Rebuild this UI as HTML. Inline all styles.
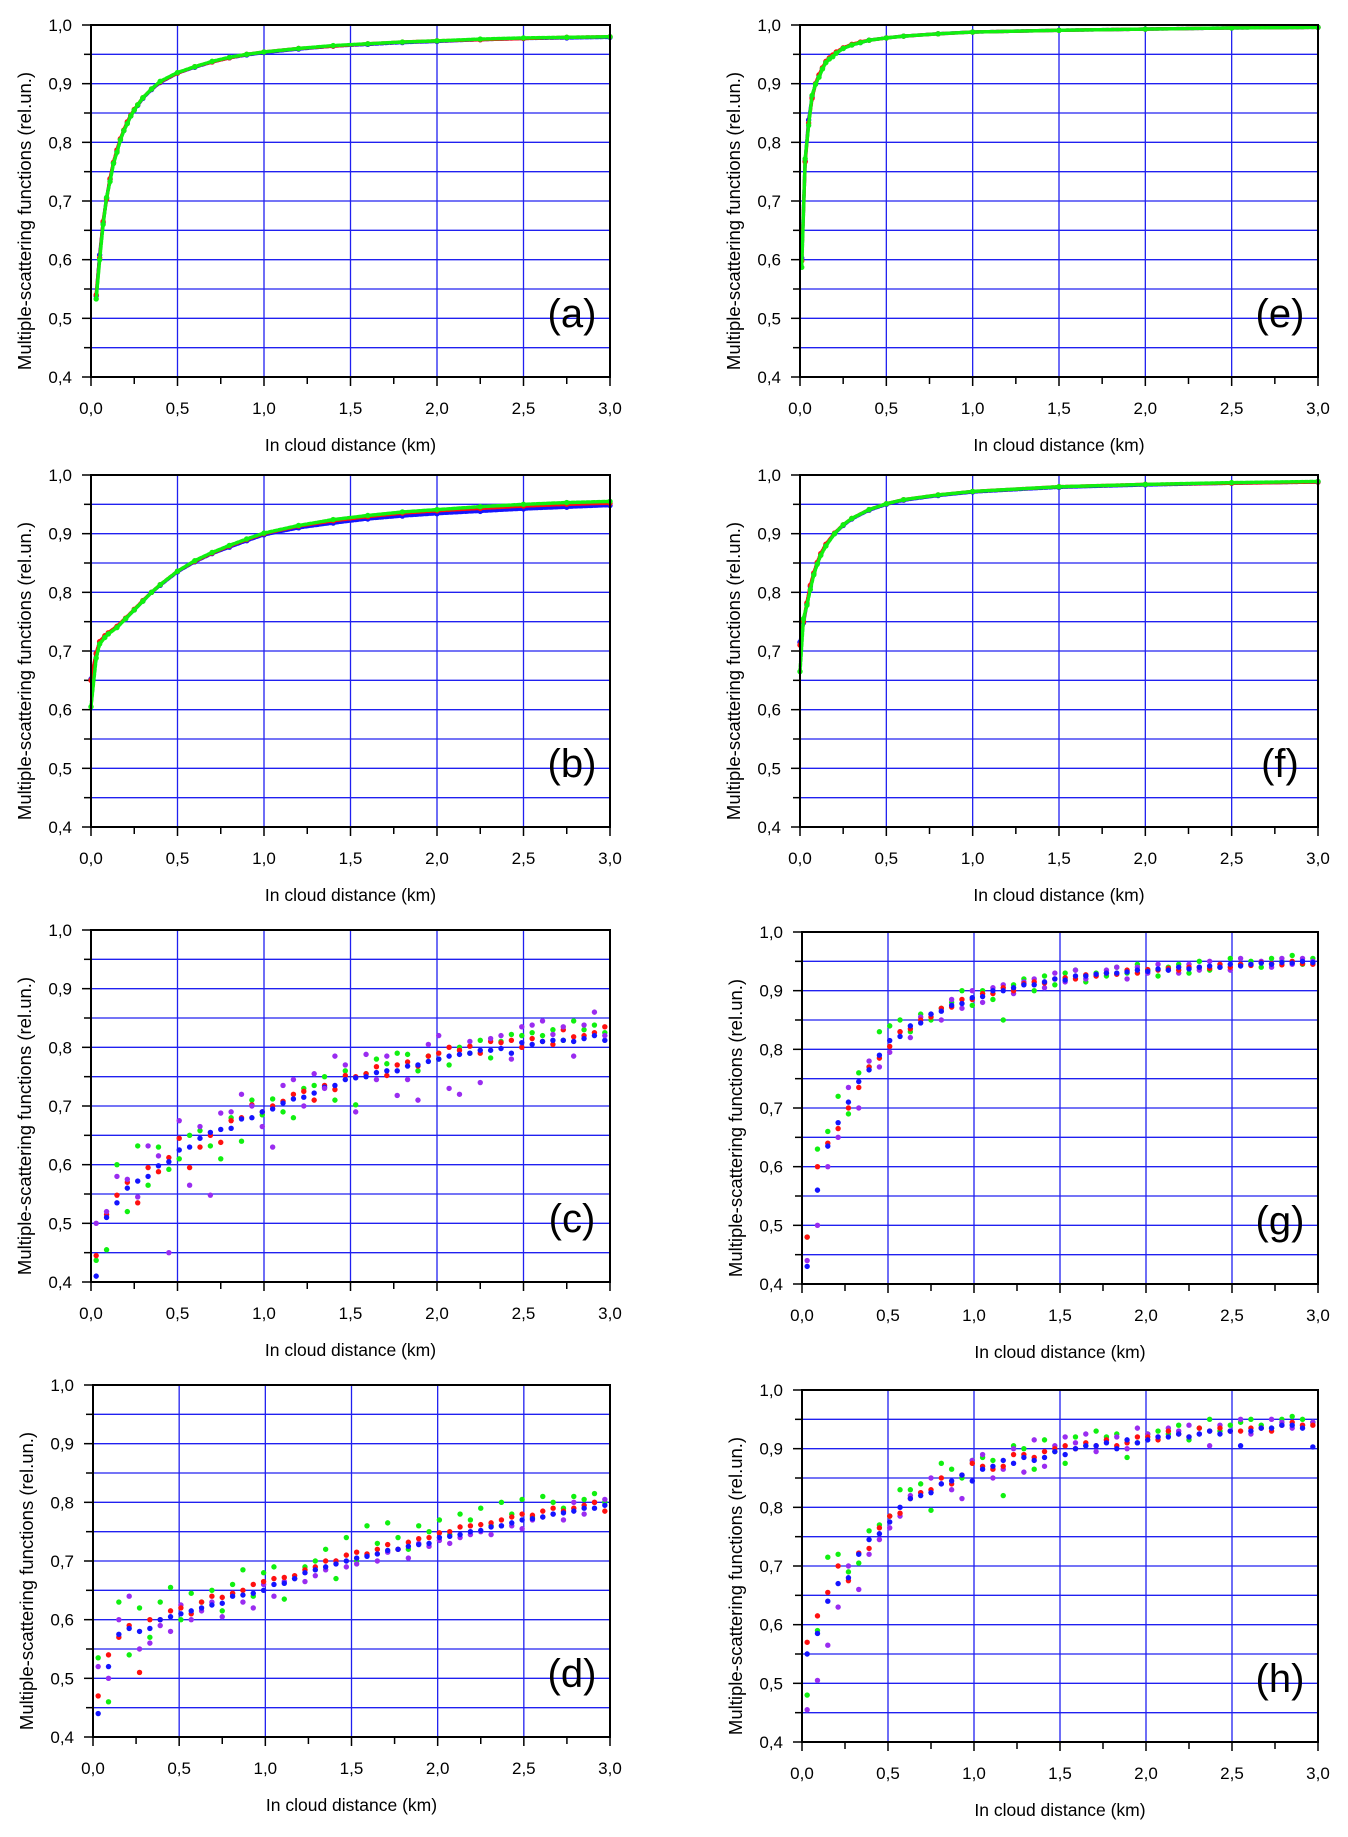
<!DOCTYPE html>
<html><head><meta charset="utf-8">
<style>
html,body{margin:0;padding:0;background:#fff;}
svg{display:block;font-family:"Liberation Sans",Arial,sans-serif;}
</style></head>
<body>
<svg id="fig" width="1348" height="1837" viewBox="0 0 1348 1837" xmlns="http://www.w3.org/2000/svg"></svg>
<script>
// ---------- axis ticks ----------
const xTicks = [0,0.5,1.0,1.5,2.0,2.5,3.0];
const xTickLabels = ["0,0","0,5","1,0","1,5","2,0","2,5","3,0"];
const yTicks = [0.4,0.5,0.6,0.7,0.8,0.9,1.0];
const yTickLabels = ["0,4","0,5","0,6","0,7","0,8","0,9","1,0"];

// ---------- smooth panels (a),(b),(e),(f) ----------
const xA = [0.03,0.05,0.07,0.09,0.11,0.13,0.15,0.17,0.19,0.21,0.23,0.25,0.27,0.3,0.35,0.4,0.5,0.6,0.7,0.8,0.9,1.0,1.2,1.4,1.6,1.8,2.0,2.25,2.5,2.75,3.0];
const aBlue  = [0.538,0.608,0.663,0.705,0.737,0.765,0.785,0.805,0.820,0.833,0.845,0.855,0.863,0.875,0.890,0.902,0.918,0.928,0.937,0.944,0.949,0.953,0.959,0.964,0.967,0.970,0.972,0.975,0.977,0.978,0.979];
const aRed   = [0.540,0.603,0.665,0.703,0.738,0.766,0.787,0.806,0.821,0.835,0.846,0.856,0.864,0.876,0.891,0.903,0.918,0.929,0.937,0.944,0.950,0.954,0.960,0.964,0.968,0.971,0.973,0.975,0.977,0.979,0.980];
const aGreen = [0.533,0.600,0.660,0.706,0.733,0.764,0.783,0.804,0.820,0.832,0.845,0.855,0.864,0.876,0.891,0.904,0.919,0.929,0.938,0.945,0.950,0.954,0.960,0.965,0.968,0.971,0.973,0.976,0.978,0.979,0.980];

const xB = [0.0,0.03,0.05,0.08,0.1,0.15,0.2,0.25,0.3,0.35,0.4,0.5,0.6,0.7,0.8,0.9,1.0,1.2,1.4,1.6,1.8,2.0,2.25,2.5,2.75,3.0];
const bBlue  = [0.652,0.695,0.715,0.724,0.730,0.741,0.755,0.770,0.785,0.800,0.812,0.835,0.852,0.866,0.877,0.888,0.898,0.910,0.918,0.925,0.930,0.934,0.938,0.942,0.945,0.948];
const bRed   = [0.650,0.696,0.716,0.726,0.731,0.742,0.756,0.771,0.786,0.800,0.813,0.836,0.853,0.867,0.879,0.890,0.900,0.913,0.922,0.929,0.935,0.939,0.943,0.947,0.950,0.952];
const bGreen = [0.605,0.688,0.712,0.723,0.729,0.740,0.755,0.770,0.785,0.800,0.813,0.836,0.854,0.868,0.880,0.891,0.901,0.914,0.924,0.931,0.937,0.941,0.946,0.950,0.953,0.955];

const xE = [0.01,0.03,0.05,0.07,0.09,0.11,0.13,0.15,0.17,0.19,0.21,0.25,0.3,0.35,0.4,0.5,0.6,0.8,1.0,1.5,2.0,2.5,3.0];
const eBlue  = [0.603,0.768,0.838,0.877,0.900,0.914,0.926,0.937,0.943,0.948,0.953,0.960,0.966,0.970,0.974,0.978,0.981,0.985,0.988,0.991,0.993,0.995,0.996];
const eRed   = [0.598,0.767,0.833,0.875,0.900,0.915,0.927,0.938,0.944,0.949,0.954,0.961,0.967,0.971,0.974,0.978,0.981,0.985,0.988,0.991,0.993,0.995,0.996];
const eGreen = [0.587,0.772,0.829,0.880,0.899,0.911,0.925,0.936,0.942,0.946,0.952,0.960,0.966,0.970,0.974,0.978,0.981,0.985,0.988,0.991,0.993,0.995,0.996];

const xF = [0.0,0.02,0.04,0.06,0.08,0.1,0.12,0.15,0.2,0.25,0.3,0.4,0.5,0.6,0.8,1.0,1.5,2.0,2.5,3.0];
const fBlue  = [0.715,0.748,0.780,0.810,0.832,0.850,0.864,0.880,0.900,0.914,0.925,0.940,0.950,0.957,0.965,0.971,0.979,0.983,0.986,0.988];
const fRed   = [0.710,0.750,0.782,0.812,0.833,0.851,0.866,0.882,0.901,0.915,0.926,0.941,0.951,0.958,0.966,0.972,0.980,0.984,0.986,0.988];
const fGreen = [0.665,0.755,0.778,0.805,0.830,0.848,0.863,0.879,0.900,0.915,0.926,0.941,0.951,0.958,0.966,0.972,0.980,0.984,0.987,0.989];

// ---------- scattered panels (c),(d),(g),(h) ----------
const xS = [0.03,0.09,0.15,0.21,0.27,0.33,0.39,0.45,0.51,0.57,0.63,0.69,0.75,0.81,0.87,0.93,0.99,1.05,1.11,1.17,1.23,1.29,1.35,1.41,1.47,1.53,1.59,1.65,1.71,1.77,1.83,1.89,1.95,2.01,2.07,2.13,2.19,2.25,2.31,2.37,2.43,2.49,2.55,2.61,2.67,2.73,2.79,2.85,2.91,2.97];

const cBlue   = [0.41,0.51,0.535,0.56,0.572,0.58,0.598,0.605,0.625,0.63,0.645,0.655,0.66,0.662,0.678,0.68,0.69,0.695,0.705,0.712,0.715,0.722,0.732,0.735,0.745,0.748,0.75,0.757,0.76,0.76,0.768,0.77,0.776,0.78,0.785,0.788,0.79,0.795,0.795,0.798,0.79,0.808,0.805,0.81,0.812,0.812,0.81,0.815,0.82,0.812];
const cRed    = [0.445,0.515,0.548,0.57,0.535,0.595,0.588,0.612,0.645,0.595,0.63,0.65,0.638,0.675,0.68,0.702,0.69,0.7,0.708,0.72,0.725,0.71,0.735,0.728,0.752,0.75,0.755,0.767,0.752,0.77,0.775,0.768,0.785,0.79,0.8,0.795,0.802,0.79,0.81,0.808,0.812,0.8,0.815,0.81,0.805,0.83,0.818,0.82,0.825,0.835];
const cGreen  = [0.437,0.455,0.6,0.52,0.632,0.565,0.63,0.592,0.61,0.65,0.658,0.632,0.61,0.68,0.64,0.71,0.685,0.712,0.69,0.68,0.73,0.735,0.75,0.71,0.76,0.702,0.755,0.78,0.772,0.79,0.788,0.76,0.785,0.78,0.77,0.8,0.79,0.812,0.782,0.81,0.822,0.82,0.825,0.82,0.83,0.812,0.845,0.83,0.838,0.825];
const cPurple = [0.5,0.52,0.58,0.575,0.545,0.632,0.615,0.45,0.675,0.565,0.665,0.548,0.688,0.69,0.72,0.7,0.665,0.63,0.735,0.745,0.7,0.755,0.73,0.785,0.77,0.69,0.788,0.745,0.785,0.718,0.745,0.71,0.805,0.82,0.73,0.72,0.81,0.74,0.815,0.82,0.78,0.835,0.838,0.845,0.822,0.835,0.785,0.838,0.86,0.82];

const dBlue   = [0.44,0.52,0.575,0.585,0.58,0.585,0.6,0.605,0.61,0.615,0.62,0.625,0.628,0.64,0.642,0.645,0.65,0.66,0.662,0.67,0.68,0.685,0.69,0.695,0.7,0.705,0.708,0.712,0.718,0.72,0.725,0.728,0.73,0.74,0.742,0.745,0.75,0.752,0.758,0.76,0.765,0.77,0.772,0.775,0.78,0.782,0.785,0.79,0.79,0.795];
const dRed    = [0.47,0.54,0.57,0.59,0.51,0.6,0.6,0.615,0.62,0.61,0.63,0.64,0.638,0.645,0.65,0.66,0.665,0.67,0.672,0.675,0.685,0.69,0.7,0.7,0.71,0.715,0.712,0.72,0.728,0.72,0.732,0.738,0.74,0.748,0.75,0.758,0.76,0.762,0.765,0.77,0.775,0.78,0.778,0.785,0.79,0.785,0.79,0.795,0.8,0.785];
const dGreen  = [0.535,0.46,0.63,0.54,0.62,0.57,0.63,0.655,0.6,0.645,0.63,0.65,0.615,0.66,0.685,0.64,0.68,0.69,0.635,0.67,0.69,0.7,0.72,0.67,0.74,0.7,0.76,0.73,0.765,0.74,0.72,0.76,0.75,0.77,0.745,0.78,0.77,0.79,0.76,0.8,0.78,0.805,0.775,0.81,0.8,0.79,0.81,0.805,0.815,0.8];
const dPurple = [0.52,0.5,0.6,0.64,0.55,0.56,0.59,0.58,0.625,0.6,0.615,0.63,0.605,0.645,0.63,0.62,0.66,0.64,0.665,0.67,0.665,0.675,0.685,0.7,0.69,0.695,0.71,0.7,0.715,0.72,0.705,0.73,0.725,0.735,0.73,0.74,0.745,0.75,0.745,0.76,0.76,0.755,0.77,0.775,0.78,0.77,0.8,0.78,0.8,0.805];

const gBlue   = [0.43,0.56,0.635,0.675,0.71,0.745,0.765,0.79,0.815,0.822,0.84,0.845,0.86,0.865,0.875,0.878,0.888,0.89,0.9,0.9,0.905,0.91,0.91,0.915,0.92,0.918,0.925,0.925,0.928,0.93,0.93,0.932,0.935,0.933,0.937,0.935,0.94,0.937,0.94,0.942,0.94,0.945,0.942,0.945,0.947,0.945,0.948,0.947,0.95,0.948];
const gRed    = [0.48,0.6,0.64,0.665,0.7,0.735,0.77,0.785,0.805,0.83,0.835,0.85,0.855,0.87,0.872,0.885,0.885,0.895,0.895,0.905,0.9,0.912,0.915,0.913,0.92,0.922,0.92,0.927,0.925,0.93,0.928,0.935,0.93,0.936,0.935,0.938,0.935,0.94,0.94,0.938,0.945,0.94,0.945,0.943,0.948,0.946,0.944,0.95,0.946,0.945];
const gGreen  = [0.48,0.63,0.66,0.72,0.69,0.76,0.77,0.83,0.84,0.85,0.83,0.86,0.85,0.87,0.88,0.9,0.875,0.9,0.885,0.85,0.91,0.92,0.9,0.925,0.91,0.93,0.935,0.915,0.93,0.925,0.94,0.93,0.945,0.935,0.925,0.94,0.945,0.93,0.95,0.935,0.94,0.955,0.945,0.95,0.94,0.955,0.95,0.96,0.945,0.955];
const gPurple = [0.44,0.5,0.6,0.65,0.735,0.7,0.78,0.77,0.795,0.83,0.82,0.855,0.86,0.85,0.885,0.87,0.9,0.88,0.905,0.91,0.895,0.915,0.92,0.905,0.93,0.915,0.935,0.92,0.925,0.935,0.94,0.92,0.94,0.93,0.945,0.935,0.93,0.945,0.935,0.95,0.94,0.935,0.955,0.945,0.95,0.94,0.955,0.945,0.955,0.95];

const hBlue   = [0.55,0.585,0.64,0.67,0.68,0.72,0.745,0.755,0.775,0.8,0.815,0.82,0.825,0.84,0.845,0.855,0.845,0.865,0.87,0.88,0.875,0.885,0.88,0.885,0.895,0.89,0.9,0.905,0.905,0.91,0.9,0.915,0.91,0.915,0.92,0.92,0.925,0.92,0.925,0.93,0.925,0.93,0.905,0.93,0.935,0.935,0.94,0.94,0.935,0.903];
const hRed    = [0.57,0.615,0.655,0.7,0.675,0.722,0.73,0.765,0.785,0.79,0.815,0.825,0.83,0.85,0.84,0.855,0.875,0.87,0.865,0.87,0.89,0.89,0.885,0.895,0.9,0.905,0.9,0.91,0.905,0.915,0.905,0.91,0.92,0.92,0.915,0.93,0.925,0.92,0.935,0.93,0.935,0.93,0.93,0.935,0.935,0.93,0.94,0.945,0.94,0.94];
const hGreen  = [0.48,0.59,0.715,0.72,0.69,0.705,0.76,0.77,0.785,0.83,0.83,0.84,0.795,0.875,0.865,0.85,0.88,0.885,0.88,0.82,0.905,0.9,0.865,0.915,0.895,0.875,0.92,0.905,0.93,0.92,0.925,0.885,0.91,0.925,0.93,0.925,0.94,0.915,0.935,0.95,0.93,0.94,0.945,0.95,0.94,0.935,0.95,0.955,0.95,0.945];
const hPurple = [0.455,0.505,0.565,0.63,0.7,0.66,0.72,0.745,0.765,0.785,0.82,0.825,0.85,0.84,0.83,0.815,0.88,0.89,0.85,0.865,0.9,0.86,0.915,0.87,0.905,0.92,0.91,0.925,0.895,0.915,0.92,0.9,0.935,0.925,0.92,0.935,0.93,0.94,0.925,0.905,0.94,0.93,0.95,0.925,0.935,0.95,0.945,0.935,0.94,0.945];

const BLUE="#1414ff", RED="#ff1010", GREEN="#10f010", PURPLE="#9a2cf0";

const panels = [
  {id:"a", left:91,  top:25,   w:519, x:xA, series:[[aBlue,BLUE],[aRed,RED],[aGreen,GREEN]], smooth:true},
  {id:"b", left:91,  top:475,  w:519, x:xB, series:[[bBlue,BLUE],[bRed,RED],[bGreen,GREEN]], smooth:true},
  {id:"c", left:91,  top:930,  w:519, x:xS, series:[[cGreen,GREEN],[cRed,RED],[cBlue,BLUE],[cPurple,PURPLE]]},
  {id:"d", left:93,  top:1385, w:517, x:xS, series:[[dGreen,GREEN],[dPurple,PURPLE],[dRed,RED],[dBlue,BLUE]]},
  {id:"e", left:800, top:25,   w:518, x:xE, series:[[eBlue,BLUE],[eRed,RED],[eGreen,GREEN]], smooth:true},
  {id:"f", left:800, top:475,  w:518, x:xF, series:[[fBlue,BLUE],[fRed,RED],[fGreen,GREEN]], smooth:true},
  {id:"g", left:802, top:932,  w:516, x:xS, series:[[gGreen,GREEN],[gPurple,PURPLE],[gRed,RED],[gBlue,BLUE]]},
  {id:"h", left:802, top:1390, w:516, x:xS, series:[[hGreen,GREEN],[hPurple,PURPLE],[hRed,RED],[hBlue,BLUE]]}
];
const H = 352;
const NS = "http://www.w3.org/2000/svg";
const svg = document.getElementById("fig");
function mk(tag, attrs, parent){
  const e = document.createElementNS(NS, tag);
  for (const k in attrs) e.setAttribute(k, attrs[k]);
  parent.appendChild(e);
  return e;
}
panels.forEach(p => {
  const W = p.w;
  const g = mk("g", {}, svg);
  
  
  const sx = v => p.left + v / 3.0 * W;
  const sy = v => p.top + H - (v - 0.4) / 0.6 * H;
  const grid = mk("g", {stroke:"#2020f0","stroke-width":"1.3"}, g);
  
  
  for (let i = 1; i < 6; i++) { const x = sx(i*0.5); mk("line",{x1:x,y1:p.top,x2:x,y2:p.top+H},grid); }
  for (let i = 1; i < 12; i++) { const y = sy(0.4 + i*0.05); mk("line",{x1:p.left,y1:y,x2:p.left+W,y2:y},grid); }
  const tk = mk("g", {stroke:"#000","stroke-width":"1.5"}, g);
  
  
  for (let i = 0; i <= 12; i++) { const x = sx(i*0.25); mk("line",{x1:x,y1:p.top+H,x2:x,y2:p.top+H+(i%2===0?9:7)},tk); }
  for (let i = 0; i <= 12; i++) { const y = sy(0.4+i*0.05); mk("line",{x1:p.left-(i%2===0?9:7),y1:y,x2:p.left,y2:y},tk); }
  p.series.forEach(([vals,col]) => {
    const sg = mk("g", {fill:col}, g);
    
    
    if (p.smooth) {
      const pts = vals.map((v,i) => sx(p.x[i]) + "," + sy(v)).join(" ");
      const pl = mk("polyline", {points:pts, fill:"none", stroke:col, "stroke-width":"3.5","stroke-linecap":"round","stroke-linejoin":"round","stroke-dasharray":"3 2"}, sg);
      
      
    }
    vals.forEach((v,i) => {
      const c = mk("circle", {cx:sx(p.x[i]), cy:sy(v), r:2.7}, sg);
      
      
    });
  });
  const fr = mk("rect", {x:p.left,y:p.top,width:W,height:H,fill:"none",stroke:"#000","stroke-width":"2"}, g);
  
  
  xTicks.forEach((v,i) => {
    const t = mk("text", {x:sx(v), y:p.top+H+37, "font-size":"17", "text-anchor":"middle", fill:"#000"}, g);
    t.textContent = xTickLabels[i];
    
    
  });
  yTicks.forEach((v,i) => {
    const t = mk("text", {x:p.left-19, y:sy(v)+6, "font-size":"17", "text-anchor":"end", fill:"#000"}, g);
    t.textContent = yTickLabels[i];
    
    
  });
  const xt = mk("text", {x:p.left+W/2, y:p.top+H+74, "font-size":"17.5", "text-anchor":"middle", fill:"#000"}, g);
  xt.textContent = "In cloud distance (km)";
  
  
  const cy = p.top + H/2 + 20;
  const yt = mk("text", {x:0, y:0, transform:"translate(" + (p.left-60) + "," + cy + ") rotate(-90)", "font-size":"18.5", "text-anchor":"middle", fill:"#000"}, g);
  yt.textContent = "Multiple-scattering functions (rel.un.)";
  
  
  const lb = mk("text", {x:p.left+W-38, y:p.top+H-50, "font-size":"40", "text-anchor":"middle", fill:"#000"}, g);
  lb.textContent = "(" + p.id + ")";
  
  
});
</script>
</body></html>
